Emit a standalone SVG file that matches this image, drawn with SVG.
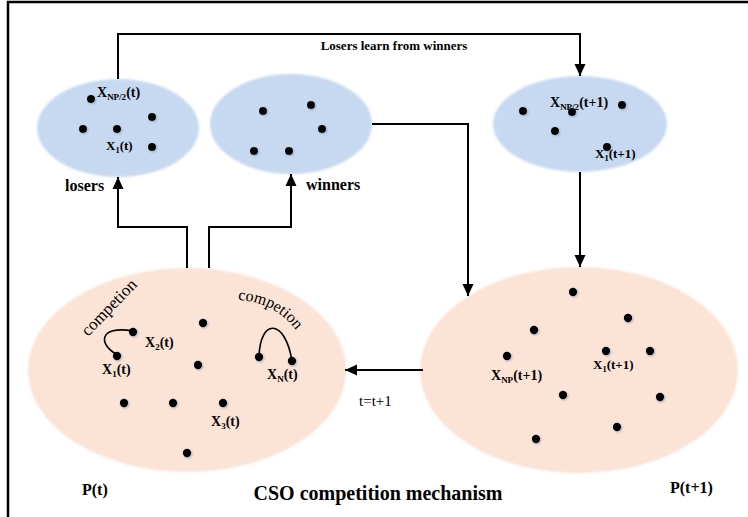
<svg xmlns="http://www.w3.org/2000/svg" width="748" height="517" viewBox="0 0 748 517">
<defs>
<marker id="ah" markerUnits="userSpaceOnUse" markerWidth="12" markerHeight="12" viewBox="0 0 12 12" refX="12" refY="6" orient="auto">
<path d="M0,0.5 L12,6 L0,11.5 Z" fill="#000"/>
</marker>
<filter id="sh" x="-50%" y="-50%" width="200%" height="200%">
<feGaussianBlur in="SourceAlpha" stdDeviation="1.2" result="b"/>
<feOffset dx="0.8" dy="1" result="o"/>
<feFlood flood-color="#7a8fb0" flood-opacity="0.6"/>
<feComposite in2="o" operator="in"/>
<feMerge><feMergeNode/><feMergeNode in="SourceGraphic"/></feMerge>
</filter>
<filter id="es" x="-10%" y="-10%" width="120%" height="120%">
<feGaussianBlur stdDeviation="0.8"/>
</filter>
</defs>
<style>
.blue{fill:#c6d9f0;}
.pink{fill:#fbe3d6;}
.dot{fill:#000;filter:url(#sh);}
.ln{fill:none;stroke:#000;stroke-width:2;}
.lb{font-family:'Liberation Serif','Times New Roman',serif;font-weight:bold;fill:#000;}
.nm{font-family:'Liberation Serif','Times New Roman',serif;font-weight:normal;fill:#000;}
.cv{fill:none;stroke:#000;stroke-width:1.6;}
</style>
<rect width="748" height="517" fill="#fff"/>
<path d="M8,517 V2 H748" fill="none" stroke="#000" stroke-width="2.5"/>

<g id="losers" font-family="Liberation Serif, serif">
<ellipse class="blue" cx="118" cy="128" rx="81" ry="49" filter="url(#es)"/>
<circle class="dot" cx="91" cy="99" r="4"/>
<circle class="dot" cx="152" cy="117" r="4"/>
<circle class="dot" cx="83" cy="129" r="4"/>
<circle class="dot" cx="117" cy="129" r="4"/>
<circle class="dot" cx="152" cy="147" r="4"/>
<text class="lb" x="97" y="97" font-size="14">X<tspan font-size="9" dy="3">NP/2</tspan><tspan dy="-3">(t)</tspan></text>
<text class="lb" x="106" y="150" font-size="13">X<tspan font-size="8.5" dy="3">1</tspan><tspan dy="-3">(t)</tspan></text>
<text class="lb" x="65" y="191" font-size="16">losers</text>
</g>

<g id="winners" font-family="Liberation Serif, serif">
<ellipse class="blue" cx="291" cy="124" rx="81" ry="50" filter="url(#es)"/>
<circle class="dot" cx="263" cy="111" r="4"/>
<circle class="dot" cx="311" cy="105" r="4"/>
<circle class="dot" cx="322" cy="129" r="4"/>
<circle class="dot" cx="254" cy="151" r="4"/>
<circle class="dot" cx="289" cy="151" r="4"/>
<text class="lb" x="306" y="190" font-size="16">winners</text>
</g>

<g id="next-losers" font-family="Liberation Serif, serif">
<ellipse class="blue" cx="580" cy="124" rx="87" ry="48" filter="url(#es)"/>
<circle class="dot" cx="523" cy="111" r="4"/>
<circle class="dot" cx="572" cy="112" r="4"/>
<circle class="dot" cx="622" cy="105" r="4"/>
<circle class="dot" cx="555" cy="131" r="4"/>
<circle class="dot" cx="607" cy="147" r="4"/>
<text class="lb" x="550" y="107" font-size="14">X<tspan font-size="9" dy="3">NP/2</tspan><tspan dy="-3">(t+1)</tspan></text>
<text class="lb" x="595" y="158" font-size="13">X<tspan font-size="8.5" dy="3">1</tspan><tspan dy="-3">(t+1)</tspan></text>
</g>

<g id="pt" font-family="Liberation Serif, serif">
<ellipse class="pink" cx="187" cy="370" rx="159" ry="102" filter="url(#es)"/>
<circle class="dot" cx="133" cy="332" r="4.2"/>
<circle class="dot" cx="117" cy="356" r="4.2"/>
<circle class="dot" cx="203" cy="323" r="4.2"/>
<circle class="dot" cx="198" cy="365" r="4.2"/>
<circle class="dot" cx="259" cy="357" r="4.2"/>
<circle class="dot" cx="292" cy="361" r="4.2"/>
<circle class="dot" cx="124" cy="403" r="4.2"/>
<circle class="dot" cx="173" cy="403" r="4.2"/>
<circle class="dot" cx="223" cy="403" r="4.2"/>
<circle class="dot" cx="187" cy="453" r="4.2"/>
<path class="cv" d="M118,355 C98,345 98,325 133,331"/>
<path class="cv" d="M259,357 C260,318 285,318 292,361"/>
<text class="nm" font-size="17" transform="translate(88,337) rotate(-46)">competion</text>
<path id="arc" d="M238,300 Q283,302 306,346" fill="none"/>
<text class="nm" font-size="16"><textPath href="#arc">competion</textPath></text>
<text class="lb" x="145" y="347" font-size="14">X<tspan font-size="9" dy="3">2</tspan><tspan dy="-3">(t)</tspan></text>
<text class="lb" x="102" y="374" font-size="14">X<tspan font-size="9" dy="3">1</tspan><tspan dy="-3">(t)</tspan></text>
<text class="lb" x="267" y="379" font-size="14">X<tspan font-size="9" dy="3">N</tspan><tspan dy="-3">(t)</tspan></text>
<text class="lb" x="211" y="426" font-size="14">X<tspan font-size="9" dy="3">3</tspan><tspan dy="-3">(t)</tspan></text>
<text class="lb" x="82" y="495" font-size="16">P(t)</text>
</g>

<g id="pt1" font-family="Liberation Serif, serif">
<ellipse class="pink" cx="579" cy="370" rx="159" ry="103" filter="url(#es)"/>
<circle class="dot" cx="573" cy="292" r="4.2"/>
<circle class="dot" cx="628" cy="318" r="4.2"/>
<circle class="dot" cx="534" cy="330" r="4.2"/>
<circle class="dot" cx="507" cy="356" r="4.2"/>
<circle class="dot" cx="606" cy="351" r="4.2"/>
<circle class="dot" cx="650" cy="351" r="4.2"/>
<circle class="dot" cx="563" cy="395" r="4.2"/>
<circle class="dot" cx="660" cy="397" r="4.2"/>
<circle class="dot" cx="617" cy="427" r="4.2"/>
<circle class="dot" cx="536" cy="439" r="4.2"/>
<text class="lb" x="491" y="380" font-size="14">X<tspan font-size="9" dy="3">NP</tspan><tspan dy="-3">(t+1)</tspan></text>
<text class="lb" x="593" y="369" font-size="13">X<tspan font-size="8.5" dy="3">1</tspan><tspan dy="-3">(t+1)</tspan></text>
<text class="lb" x="670" y="493" font-size="16">P(t+1)</text>
</g>

<g id="connectors">
<path class="ln" d="M118,79 V34 H580 V76" marker-end="url(#ah)"/>
<path class="ln" d="M187,268 V227 H118 V177" marker-end="url(#ah)"/>
<path class="ln" d="M209,268 V227 H291 V174" marker-end="url(#ah)"/>
<path class="ln" d="M372,124 H468 V296" marker-end="url(#ah)"/>
<path class="ln" d="M580,172 V267" marker-end="url(#ah)"/>
<path class="ln" d="M423,370 H345" marker-end="url(#ah)"/>
</g>

<g font-family="Liberation Serif, serif">
<text class="lb" x="394" y="50" font-size="13" text-anchor="middle">Losers learn from winners</text>
<text class="nm" x="359" y="406" font-size="15" fill="#000">t=t+1</text>
<text class="lb" x="378" y="500" font-size="20" text-anchor="middle">CSO competition mechanism</text>
</g>
</svg>
